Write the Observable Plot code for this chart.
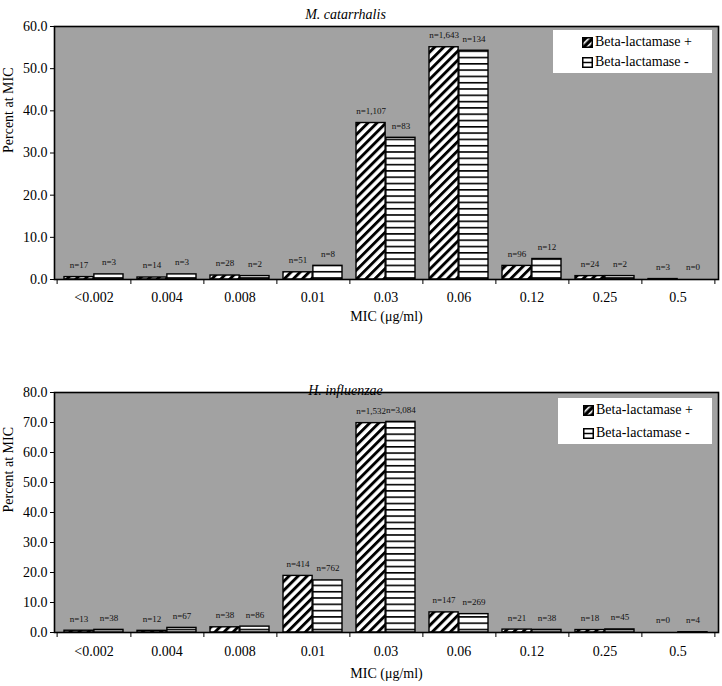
<!DOCTYPE html>
<html><head><meta charset="utf-8">
<script src="https://cdn.jsdelivr.net/npm/d3@7"></script>
<script src="https://cdn.jsdelivr.net/npm/@observablehq/plot@0.6"></script>
<style>
body{margin:0;background:#fff;}
#wrap{position:relative;width:722px;height:686px;overflow:hidden;background:#fff;}
.chart{position:absolute;left:0;}
.chart svg{display:block;}
.legend{position:absolute;background:#fff;font-family:'Liberation Serif','Times New Roman',serif;font-size:14px;color:#000;}
.legend .row{position:absolute;display:flex;align-items:center;white-space:nowrap;line-height:16px;}
.legend .row svg{margin-right:2px;}
</style></head>
<body>
<svg width="0" height="0" style="position:absolute">
<defs>
<pattern id="diag" patternUnits="userSpaceOnUse" width="6.4" height="10" patternTransform="rotate(45)">
<rect width="6.4" height="10" fill="#fff"/><rect width="2.9" height="10" fill="#000"/>
</pattern>
<pattern id="horiz" patternUnits="userSpaceOnUse" width="10" height="6.3">
<rect width="10" height="6.3" fill="#fff"/><rect y="0" width="10" height="1.6" fill="#000"/>
</pattern>
<pattern id="stipple" patternUnits="userSpaceOnUse" width="2" height="2">
<rect width="2" height="2" fill="#b0b0b0"/><rect width="1" height="1" fill="#949494"/><rect x="1" y="1" width="1" height="1" fill="#949494"/>
</pattern>
<pattern id="swdiag" patternUnits="userSpaceOnUse" width="5" height="5" patternTransform="rotate(45)">
<rect width="5" height="5" fill="#000"/><rect width="1.6" height="5" fill="#fff"/>
</pattern>
</defs></svg>
<div id="wrap"></div>
<script>
// ---- data ----
const micLevels = ["<0.002","0.004","0.008","0.01","0.03","0.06","0.12","0.25","0.5"];

const mcatPosPct = [0.57, 0.47, 0.94, 1.71, 37.11, 55.08, 3.22, 0.80, 0.10];
const mcatNegPct = [1.21, 1.21, 0.81, 3.24, 33.60, 54.25, 4.86, 0.81, 0];
const mcatPosN = ["n=17","n=14","n=28","n=51","n=1,107","n=1,643","n=96","n=24","n=3"];
const mcatNegN = ["n=3","n=3","n=2","n=8","n=83","n=134","n=12","n=2","n=0"];

const hinfPosPct = [0.59, 0.55, 1.73, 18.86, 69.79, 6.70, 0.96, 0.82, 0];
const hinfNegPct = [0.87, 1.53, 1.96, 17.35, 70.20, 6.12, 0.87, 1.02, 0.09];
const hinfPosN = ["n=13","n=12","n=38","n=414","n=1,532","n=147","n=21","n=18","n=0"];
const hinfNegN = ["n=38","n=67","n=86","n=762","n=3,084","n=269","n=38","n=45","n=4"];

const mcatTicks = [0, 10, 20, 30, 40, 50, 60];
const hinfTicks = [0, 10, 20, 30, 40, 50, 60, 70, 80];

const seriesNames = ["Beta-lactamase +", "Beta-lactamase -"];
const xTitle = "MIC (\u03bcg/ml)";
const yTitle = "Percent at MIC";

// ---- layout ----
const W = 722, ML = 54, MR = 4;
const PI = 0.19, PO = 0.095;
const step = (W - ML - MR) / (micLevels.length - PI + 2 * PO);
const bw = step * (1 - PI);
const serif = "'Liberation Serif','Times New Roman',serif";

function makeChart(o) {
  const pos = micLevels.map((m, i) => ({mic: m, pct: o.pos[i], n: o.posN[i]}));
  const neg = micLevels.map((m, i) => ({mic: m, pct: o.neg[i], n: o.negN[i]}));
  return Plot.plot({
    width: W, height: o.height,
    marginLeft: ML, marginRight: MR, marginTop: o.mt, marginBottom: o.mb,
    style: {fontFamily: serif, fontSize: "14px", background: "transparent", color: "black", overflow: "visible"},
    x: {type: "band", domain: micLevels, paddingInner: PI, paddingOuter: PO},
    y: {domain: [0, o.ticks[o.ticks.length - 1]]},
    marks: [
      Plot.frame({fill: "url(#stipple)"}),
      Plot.barY(pos, {x: "mic", y: "pct", fill: "url(#diag)", stroke: "black", strokeWidth: 1.4, insetRight: bw / 2}),
      Plot.barY(neg, {x: "mic", y: "pct", fill: "url(#horiz)", stroke: "black", strokeWidth: 1.4, insetLeft: bw / 2}),
      Plot.text(pos, {x: "mic", y: "pct", text: "n", dx: -bw / 4, dy: -12, fontSize: 9, fill: "#111"}),
      Plot.text(neg, {x: "mic", y: "pct", text: "n", dx: bw / 4, dy: -12, fontSize: 9, fill: "#111"}),
      Plot.frame({stroke: "black", strokeWidth: 1.6}),
      Plot.axisY({ticks: o.ticks, tickFormat: d3.format(".1f"), tickSize: 4, tickPadding: 3, label: null, stroke: "black"}),
      Plot.axisX({tickSize: 0, tickPadding: o.xpad, label: null}),
      Plot.ruleX(micLevels, {x: d => d, y1: 0, y2: 0, dx: step / 2, insetBottom: -5, stroke: "black"}),
      Plot.ruleX([micLevels[0]], {x: d => d, y1: 0, y2: 0, dx: -step / 2, insetBottom: -5, stroke: "black"}),
      Plot.text([yTitle], {frameAnchor: "left", rotate: -90, dx: -46, fontSize: 14}),
      Plot.text([xTitle], {frameAnchor: "bottom", dy: o.xlabDy, fontSize: 14}),
      Plot.text([o.title], {frameAnchor: "top", dx: -41, dy: o.titleDy, fontSize: 14, fontStyle: "italic"})
    ]
  });
}

function addChart(top, o) {
  const d = document.createElement("div");
  d.className = "chart";
  d.style.top = top + "px";
  d.appendChild(makeChart(o));
  document.getElementById("wrap").appendChild(d);
}

function swatch(fill) {
  return `<svg width="11" height="11"><rect x="0.75" y="0.75" width="9.5" height="9.5" fill="${fill}" stroke="#000" stroke-width="1.5"/>` +
    (fill === "#fff" ? `<line x1="1" y1="5.5" x2="10" y2="5.5" stroke="#000" stroke-width="1.5"/>` : "") + `</svg>`;
}

function addLegend(left, top, w, h, rowTops, swx) {
  const L = document.createElement("div");
  L.className = "legend";
  Object.assign(L.style, {left: left + "px", top: top + "px", width: w + "px", height: h + "px"});
  const fills = ["url(#swdiag)", "#fff"];
  seriesNames.forEach((s, i) => {
    const r = document.createElement("div");
    r.className = "row";
    r.style.left = swx + "px";
    r.style.top = rowTops[i] + "px";
    r.innerHTML = swatch(fills[i]) + `<span>${s}</span>`;
    L.appendChild(r);
  });
  document.getElementById("wrap").appendChild(L);
}

addChart(0, {pos: mcatPosPct, neg: mcatNegPct, posN: mcatPosN, negN: mcatNegN, ticks: mcatTicks,
  height: 330, mt: 26, mb: 51, xpad: 13, xlabDy: 41, titleDy: -17, title: "M. catarrhalis"});
addChart(320, {pos: hinfPosPct, neg: hinfNegPct, posN: hinfPosN, negN: hinfNegN, ticks: hinfTicks,
  height: 366, mt: 72, mb: 54, xpad: 14, xlabDy: 45, titleDy: -7, title: "H. influenzae"});

addLegend(553, 30, 159, 43, [4, 24], 29);
addLegend(558, 398, 154, 46, [4, 27], 25);
</script>
</body></html>
